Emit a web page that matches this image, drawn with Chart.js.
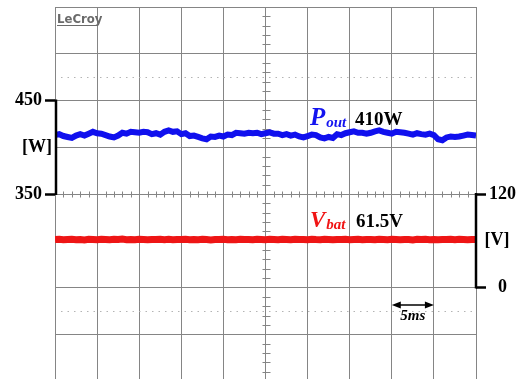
<!DOCTYPE html>
<html>
<head>
<meta charset="utf-8">
<title>Pout / Vbat</title>
<script src="https://cdn.jsdelivr.net/npm/chart.js@4.4.1/dist/chart.umd.min.js"></script>
<style>
  html, body { margin: 0; padding: 0; background: #fff; overflow: hidden; }
  canvas { display: block; }
</style>
</head>
<body>
<canvas id="scope" width="523" height="383"></canvas>
<script>
// sample times (ms), 5 ms / div, 10 divisions
const timeMs = [
  0, 0.5, 1, 1.5, 2, 2.5, 3, 3.5, 4, 4.5,
  5, 5.5, 6, 6.5, 7, 7.5, 8, 8.5, 9, 9.5,
  10, 10.5, 11, 11.5, 12, 12.5, 13, 13.5, 14, 14.5,
  15, 15.5, 16, 16.5, 17, 17.5, 18, 18.5, 19, 19.5,
  20, 20.5, 21, 21.5, 22, 22.5, 23, 23.5, 24, 24.5,
  25, 25.5, 26, 26.5, 27, 27.5, 28, 28.5, 29, 29.5,
  30, 30.5, 31, 31.5, 32, 32.5, 33, 33.5, 34, 34.5,
  35, 35.5, 36, 36.5, 37, 37.5, 38, 38.5, 39, 39.5,
  40, 40.5, 41, 41.5, 42, 42.5, 43, 43.5, 44, 44.5,
  45, 45.5, 46, 46.5, 47, 47.5, 48, 48.5, 49, 49.5,
  50
];

// output power trace (W)
const poutW = [
  413, 414, 412, 411, 410, 412.5, 414, 412.5, 414.5, 416.5,
  415, 414.5, 413, 411.5, 410.5, 412.5, 415.5, 414.5, 416.5, 416,
  415.5, 416.5, 416, 414, 415, 413.5, 416.5, 418, 416.5, 417,
  414, 415, 412, 412.5, 411, 409.5, 408.5, 411.5, 411, 412.5,
  411.5, 413.5, 413, 415.5, 415, 414.5, 415.5, 415, 415.5, 414,
  415, 416, 414.5, 414.5, 413, 414, 412.5, 413.5, 411.5, 410.5,
  412, 413.5, 413, 410.5, 409.5, 411, 410, 414, 413, 415,
  416, 417, 415.5, 415.5, 414.5, 415.5, 417, 418, 416.5, 415.5,
  414.5, 416.5, 416, 415.5, 414.5, 413.5, 415, 414, 413.5, 414.5,
  413, 408.5, 407.5, 410.5, 411.5, 411, 411.5, 412.5, 413.5, 413,
  412.5
];

// battery voltage trace (V)
const vbatV = [
  61.5, 61.9, 61.2, 61.6, 62.0, 61.4, 61.7, 61.1, 61.8, 61.5,
  61.3, 61.9, 61.6, 61.2, 61.8, 61.5, 62.1, 61.4, 61.6, 61.3,
  61.9, 61.5, 61.2, 61.7, 61.6, 62.0, 61.4, 61.8, 61.3, 61.6,
  61.5, 61.9, 61.2, 61.7, 61.4, 61.8, 61.6, 61.1, 61.7, 61.5,
  62.0, 61.4, 61.6, 61.3, 61.9, 61.5, 61.7, 61.2, 61.8, 61.6,
  61.4, 61.9, 61.5, 61.2, 61.8, 61.6, 61.3, 62.0, 61.5, 61.7,
  61.2, 61.8, 61.5, 61.4, 61.9, 61.6, 61.2, 61.7, 61.5, 61.8,
  61.3, 61.6, 62.0, 61.4, 61.7, 61.5, 61.2, 61.9, 61.6, 61.4,
  61.8, 61.5, 61.3, 61.7, 61.6, 61.1, 61.8, 61.5, 61.9, 61.4,
  61.6, 61.3, 61.7, 61.5, 62.0, 61.4, 61.8, 61.6, 61.2, 61.7,
  61.5
];

// labelled ticks on the two brackets
const powerTicks = [350, 450];
const voltTicks = [0, 120];

const GRID = '#858585';
const SERIF = '"Liberation Serif", "Times New Roman", serif';

function points(ys) {
  return timeMs.map((t, i) => ({ x: t, y: ys[i] }));
}

function isPowerTick(ctx) {
  return ctx.tick && powerTicks.indexOf(ctx.tick.value) >= 0;
}

// scope graticule extras + brackets + annotations
const scopeDecor = {
  id: 'scopeDecor',
  beforeDatasetsDraw(chart) {
    const ctx = chart.ctx;
    const a = chart.chartArea;
    const x = chart.scales.x;
    const y = chart.scales.y;
    ctx.save();

    // dotted reference lines
    ctx.strokeStyle = '#b4b4b4';
    ctx.lineWidth = 1;
    ctx.setLineDash([1.5, 5]);
    [475, 225].forEach(v => {
      const py = Math.round(y.getPixelForValue(v)) + 0.5;
      ctx.beginPath();
      ctx.moveTo(a.left + 6, py);
      ctx.lineTo(a.right - 4, py);
      ctx.stroke();
    });
    ctx.setLineDash([]);

    // minor ticks on the centre cross
    ctx.strokeStyle = GRID;
    const cy = Math.round(y.getPixelForValue(350)) + 0.5;
    for (let t = 1; t < 50; t++) {
      if (t % 5 === 0) continue;
      const px = Math.round(x.getPixelForValue(t)) + 0.5;
      ctx.beginPath();
      ctx.moveTo(px, cy - 3);
      ctx.lineTo(px, cy + 3);
      ctx.stroke();
    }
    const cx = Math.round(x.getPixelForValue(25)) + 0.5;
    for (let v = 160; v < 550; v += 10) {
      if (v % 50 === 0) continue;
      const py = Math.round(y.getPixelForValue(v)) + 0.5;
      ctx.beginPath();
      ctx.moveTo(cx - 4, py);
      ctx.lineTo(cx + 4, py);
      ctx.stroke();
    }

    // LeCroy logo
    ctx.fillStyle = '#6a6a6a';
    ctx.font = 'bold 13px "DejaVu Sans Condensed", "DejaVu Sans", sans-serif';
    ctx.textBaseline = 'alphabetic';
    ctx.fillText('LeCroy', a.left + 2, a.top + 16);
    ctx.fillRect(a.left + 2, a.top + 18, 40, 1);
    ctx.restore();
  },
  afterDraw(chart) {
    const ctx = chart.ctx;
    const a = chart.chartArea;
    const x = chart.scales.x;
    const y = chart.scales.y;
    const y2 = chart.scales.y2;
    ctx.save();

    // bracket spines
    ctx.strokeStyle = '#000';
    ctx.lineWidth = 2.5;
    ctx.beginPath();
    ctx.moveTo(a.left + 1, y.getPixelForValue(450) - 1);
    ctx.lineTo(a.left + 1, y.getPixelForValue(350) + 1);
    ctx.stroke();
    ctx.beginPath();
    ctx.moveTo(a.right, y2.getPixelForValue(120) - 1);
    ctx.lineTo(a.right, y2.getPixelForValue(0) + 1);
    ctx.stroke();

    // units
    ctx.fillStyle = '#000';
    ctx.font = 'bold 18px ' + SERIF;
    ctx.textAlign = 'center';
    ctx.textBaseline = 'middle';
    ctx.fillText('[W]', 37, y.getPixelForValue(400));
    ctx.fillText('[V]', 497, y2.getPixelForValue(60));

    // trace labels
    ctx.textAlign = 'left';
    ctx.textBaseline = 'alphabetic';
    drawSub(ctx, 310, 125, 'P', 'out', '#1414f0', 25);
    ctx.fillStyle = '#000';
    ctx.font = 'bold 19px ' + SERIF;
    ctx.fillText('410W', 355, 125);
    drawSub(ctx, 310, 227, 'V', 'bat', '#f01414', 23);
    ctx.fillStyle = '#000';
    ctx.font = 'bold 19px ' + SERIF;
    ctx.fillText('61.5V', 356, 227);

    // time scale arrow (one division)
    const x1 = x.getPixelForValue(40);
    const x2 = x.getPixelForValue(45);
    const ay = 305;
    ctx.lineWidth = 1.5;
    ctx.beginPath();
    ctx.moveTo(x1 + 4, ay);
    ctx.lineTo(x2 - 4, ay);
    ctx.stroke();
    ctx.beginPath();
    ctx.moveTo(x1, ay);
    ctx.lineTo(x1 + 9, ay - 3.5);
    ctx.lineTo(x1 + 9, ay + 3.5);
    ctx.closePath();
    ctx.moveTo(x2, ay);
    ctx.lineTo(x2 - 9, ay - 3.5);
    ctx.lineTo(x2 - 9, ay + 3.5);
    ctx.closePath();
    ctx.fill();
    ctx.font = 'italic bold 15px ' + SERIF;
    ctx.textAlign = 'center';
    ctx.fillText('5ms', (x1 + x2) / 2, 320);
    ctx.restore();
  }
};

function drawSub(ctx, px, py, main, sub, color, size) {
  ctx.fillStyle = color;
  ctx.font = 'italic bold ' + size + 'px ' + SERIF;
  ctx.fillText(main, px, py);
  const w = ctx.measureText(main).width;
  ctx.font = 'italic bold 15px ' + SERIF;
  ctx.fillText(sub, px + w + 1, py + 2);
}

new Chart(document.getElementById('scope'), {
  type: 'line',
  data: {
    datasets: [
      {
        label: 'Pout',
        data: points(poutW),
        yAxisID: 'y',
        borderColor: '#1010ee',
        borderWidth: 6,
        pointRadius: 0,
        tension: 0
      },
      {
        label: 'Vbat',
        data: points(vbatV),
        yAxisID: 'y2',
        borderColor: '#ee1515',
        borderWidth: 7,
        pointRadius: 0,
        tension: 0
      }
    ]
  },
  options: {
    responsive: false,
    animation: false,
    devicePixelRatio: 1,
    layout: { padding: { top: 7, left: 0, right: 0, bottom: 0 }, autoPadding: false },
    plugins: {
      legend: { display: false },
      tooltip: { enabled: false }
    },
    scales: {
      x: {
        type: 'linear',
        position: 'bottom',
        min: 0,
        max: 50,
        ticks: { stepSize: 5, display: false },
        grid: { color: GRID, lineWidth: 1, drawTicks: false },
        border: { display: false },
        afterFit(scale) {
          scale.height = 2;
          scale.paddingLeft = 0;
          scale.paddingRight = 0;
        }
      },
      y: {
        type: 'linear',
        position: 'left',
        min: 150,
        max: 550,
        ticks: {
          stepSize: 50,
          padding: 3,
          color: '#000',
          font: { family: SERIF, size: 18, weight: 'bold' },
          callback: v => (powerTicks.indexOf(v) >= 0 ? String(v) : '')
        },
        grid: {
          color: GRID,
          lineWidth: 1,
          tickLength: 10,
          tickColor: c => (isPowerTick(c) ? '#000' : 'rgba(0,0,0,0)'),
          tickWidth: c => (isPowerTick(c) ? 2.5 : 1)
        },
        border: { display: false },
        afterFit(scale) {
          scale.width = 55;
          scale.paddingTop = 0;
          scale.paddingBottom = 0;
        }
      },
      y2: {
        type: 'linear',
        position: 'right',
        min: -120,
        max: 360,
        afterBuildTicks(scale) {
          scale.ticks = voltTicks.map(v => ({ value: v }));
        },
        ticks: {
          padding: 3,
          crossAlign: 'center',
          color: '#000',
          font: { family: SERIF, size: 18, weight: 'bold' }
        },
        grid: {
          drawOnChartArea: false,
          tickLength: 10,
          tickColor: '#000',
          tickWidth: 2.5
        },
        border: { display: false },
        afterFit(scale) {
          scale.width = 47;
          scale.paddingTop = 0;
          scale.paddingBottom = 0;
        }
      }
    }
  },
  plugins: [scopeDecor]
});
</script>
</body>
</html>
